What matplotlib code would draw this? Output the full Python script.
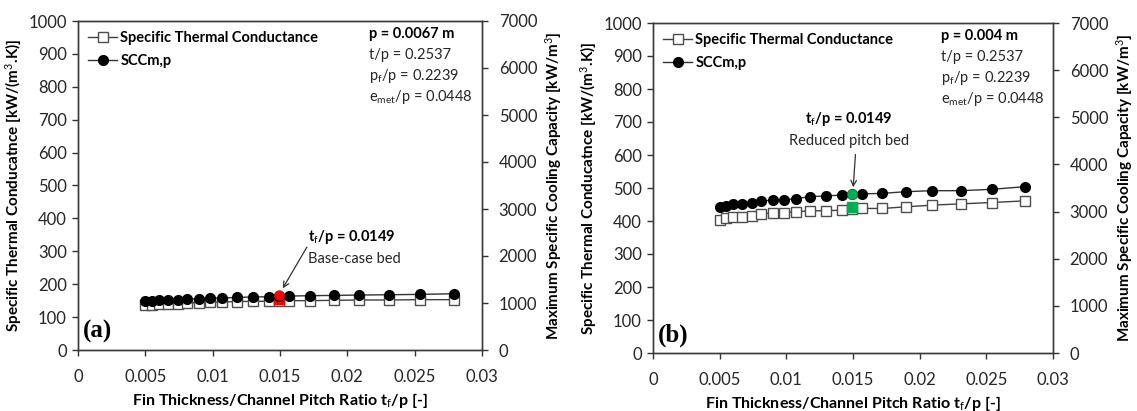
import matplotlib.pyplot as plt

# fin thickness / channel pitch ratio (same sweep in both panels)
ratio = [0.0050, 0.0055, 0.0060, 0.0067, 0.0074, 0.0081, 0.0090, 0.0098, 0.0107, 0.0118,
         0.0130, 0.0142, 0.0149, 0.0157, 0.0172, 0.0190, 0.0209, 0.0231, 0.0254, 0.0279]

# panel (a), p = 0.0067 m
stc_a = [136, 138, 139, 140, 141, 143, 144, 145, 146, 147,
         148, 148, 149, 150, 150, 151, 152, 152, 153, 153]
scc_a = [1036, 1050, 1057, 1064, 1071, 1085, 1092, 1099, 1106, 1120,
         1127, 1134, 1141, 1148, 1155, 1162, 1169, 1176, 1183, 1197]

# panel (b), p = 0.004 m
stc_b = [403, 408, 411, 413, 415, 421, 425, 425, 428, 431,
         431, 433, 436, 438, 438, 443, 448, 452, 456, 461]
scc_b = [3091, 3119, 3161, 3161, 3189, 3218, 3246, 3246, 3274, 3317,
         3331, 3352, 3373, 3373, 3387, 3422, 3443, 3443, 3472, 3528]

# highlighted design points (t_f/p = 0.0149): panel a, panel b
mark_x = 0.0149
mark_stc = [155, 441]
mark_scc = [1176, 3373]

params = ['t/p = 0.2537', 'p$_f$/p = 0.2239', 'e$_{met}$/p = 0.0448']

plt.rcParams['font.family'] = ['Lato', 'DejaVu Sans']
plt.rcParams['mathtext.fontset'] = 'custom'
plt.rcParams['mathtext.rm'] = 'Lato'
plt.rcParams['mathtext.it'] = 'Lato'
plt.rcParams['mathtext.bf'] = 'Lato:bold'

fig = plt.figure(figsize=(11.37, 4.11), dpi=100)
ax_a = fig.add_axes([78/1137, 61/411, 404/1137, 329/411])
ax_b = fig.add_axes([653/1137, 58/411, 400/1137, 330/411])

tick_col = '#262626'


def draw_panel(ax, idx, stc, scc, pitch, mcol, tag, note, note_xy, arrow_from, arrow_to, note_ha):
    ax2 = ax.twinx()
    l1, = ax.plot(ratio, stc, '-s', color='#404040', lw=1.0, ms=6.5, mfc='white',
                  mec='#4d4d4d', mew=1.0, label='Specific Thermal Conductance')
    l2, = ax2.plot(ratio, scc, '-o', color='#333333', lw=1.0, ms=7, mfc='black',
                   mec='black', label='SCCm,p')
    ax.plot([mark_x], [mark_stc[idx]], 's', color=mcol, ms=7, mec=mcol, zorder=5)
    ax2.plot([mark_x], [mark_scc[idx]], 'o', color=mcol, ms=6.5, mec=mcol, zorder=5)

    ax.set_xlim(0, 0.03)
    ax.set_ylim(0, 1000)
    ax2.set_ylim(0, 7000)
    ax.set_xticks([0, 0.005, 0.01, 0.015, 0.02, 0.025, 0.03])
    ax.set_xticklabels(['0', '0.005', '0.01', '0.015', '0.02', '0.025', '0.03'])
    ax.set_yticks(range(0, 1001, 100))
    ax2.set_yticks(range(0, 7001, 1000))
    for a in (ax, ax2):
        a.tick_params(direction='out', length=4, width=1, labelsize=12, colors='#333333',
                      labelcolor=tick_col, pad=4)
        for s in a.spines.values():
            s.set_color('#3a3a3a')
            s.set_linewidth(1.0)
    ax.tick_params(axis='x', pad=10)
    ax2.tick_params(axis='y', pad=8)

    ax.set_xlabel('Fin Thickness/Channel Pitch Ratio t$_f$/p [-]', fontsize=11.5,
                  fontweight='bold', labelpad=4)
    ax.set_ylabel('Specific Thermal Conducatnce [kW/(m$^3$.K)]', fontsize=11,
                  fontweight='bold', labelpad=3)
    ax2.set_ylabel('Maximum Specific Cooling Capacity [kW/m$^3$]', fontsize=11,
                   fontweight='bold', labelpad=4)

    leg = ax.legend([l1, l2], ['Specific Thermal Conductance', 'SCCm,p'], loc='upper left',
                    frameon=False, fontsize=10.5, handlelength=2.0, handletextpad=0.2,
                    borderaxespad=0.3, labelspacing=0.6, bbox_to_anchor=(0.0, 1.0))
    for t in leg.get_texts():
        t.set_fontweight('bold')

    ax.text(0.72, 0.962, 'p = %s m' % pitch, transform=ax.transAxes, fontsize=10.5,
            fontweight='bold', va='center')
    for i, s in enumerate(params):
        ax.text(0.72, 0.897 - i * 0.064, s, transform=ax.transAxes, fontsize=10.5,
                va='center', color=tick_col)

    ax.text(0.012, 0.055, tag, transform=ax.transAxes, fontsize=18, fontweight='bold',
            family='Liberation Serif', va='center')

    ax.text(note_xy[0], note_xy[1], 't$_f$/p = 0.0149', fontsize=10.5, fontweight='bold',
            ha=note_ha, va='center')
    ax.text(note_xy[0], note_xy[1] - 65, note, fontsize=10.5, ha=note_ha, va='center',
            color=tick_col)
    ax.annotate('', xy=arrow_to, xytext=arrow_from,
                arrowprops=dict(arrowstyle='->', color='#333333', lw=0.9))


draw_panel(ax_a, 0, stc_a, scc_a, '0.0067', '#ff0000', '(a)', 'Base-case bed',
           (0.0171, 343), (0.0171, 320), (0.0151, 180), 'left')
draw_panel(ax_b, 1, stc_b, scc_b, '0.004', '#00b050', '(b)', 'Reduced pitch bed',
           (0.0147, 708), (0.0152, 610), (0.0150, 494), 'center')

fig.savefig('out.png', dpi=100)
